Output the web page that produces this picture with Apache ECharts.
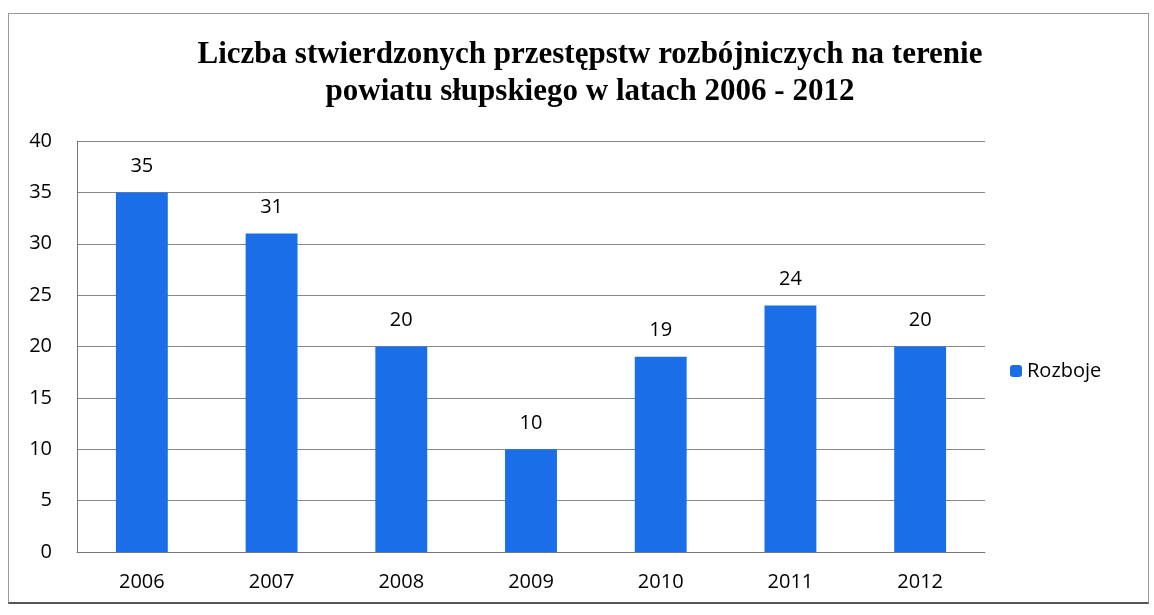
<!DOCTYPE html>
<html>
<head>
<meta charset="utf-8">
<script src="https://cdn.jsdelivr.net/npm/echarts@6/dist/echarts.min.js"></script>
<style>
  html, body { margin: 0; padding: 0; background: #fff; }
  #frame { position: absolute; left: 8px; top: 13px; width: 1141px; height: 591px; border: 1px solid #999; border-bottom: 2px solid #555; box-sizing: border-box; }
  #chart { position: absolute; left: 0; top: 0; width: 1154px; height: 615px; }
</style>
</head>
<body>
<div id="frame"></div>
<div id="chart"></div>
<script>
const years = ['2006', '2007', '2008', '2009', '2010', '2011', '2012']
const rozboje = [35, 31, 20, 10, 19, 24, 20]
const yTicks = { min: 0, max: 40, interval: 5 }

const labelFont = 'Open Sans, Liberation Sans, sans-serif'

echarts.init(document.querySelector('#chart')).setOption({
  animation: false,
  title: {
    text: 'Liczba stwierdzonych przestępstw rozbójniczych na terenie\npowiatu słupskiego w latach 2006 - 2012',
    left: 585,
    top: 31,
    textAlign: 'center',
    textStyle: {
      fontFamily: 'Liberation Serif, serif',
      fontWeight: 'bold',
      fontSize: 31,
      lineHeight: 37,
      color: '#000'
    }
  },
  legend: {
    data: ['Rozboje'],
    left: 1005,
    top: 356,
    itemWidth: 12,
    itemHeight: 12,
    itemGap: 5,
    textStyle: { fontFamily: labelFont, fontSize: 20, color: '#000' }
  },
  grid: { left: 77, right: 169, top: 141, bottom: 63 },
  xAxis: {
    type: 'category',
    data: years,
    axisLine: { lineStyle: { color: '#777' } },
    axisTick: { length: 9, lineStyle: { color: '#777' } },
    axisLabel: { fontFamily: labelFont, fontSize: 20, color: '#000', margin: 20 }
  },
  yAxis: {
    type: 'value',
    min: yTicks.min,
    max: yTicks.max,
    interval: yTicks.interval,
    axisLine: { show: true, lineStyle: { color: '#777' } },
    axisTick: { show: false },
    splitLine: { lineStyle: { color: '#888' } },
    axisLabel: { fontFamily: labelFont, fontSize: 20, color: '#000', margin: 25 }
  },
  series: [
    {
      name: 'Rozboje',
      type: 'bar',
      data: rozboje,
      barWidth: '40%',
      itemStyle: { color: '#1a6fe8' },
      label: {
        show: true,
        position: 'top',
        distance: 16,
        fontFamily: labelFont,
        fontSize: 20,
        color: '#000'
      }
    }
  ]
})
</script>
</body>
</html>
